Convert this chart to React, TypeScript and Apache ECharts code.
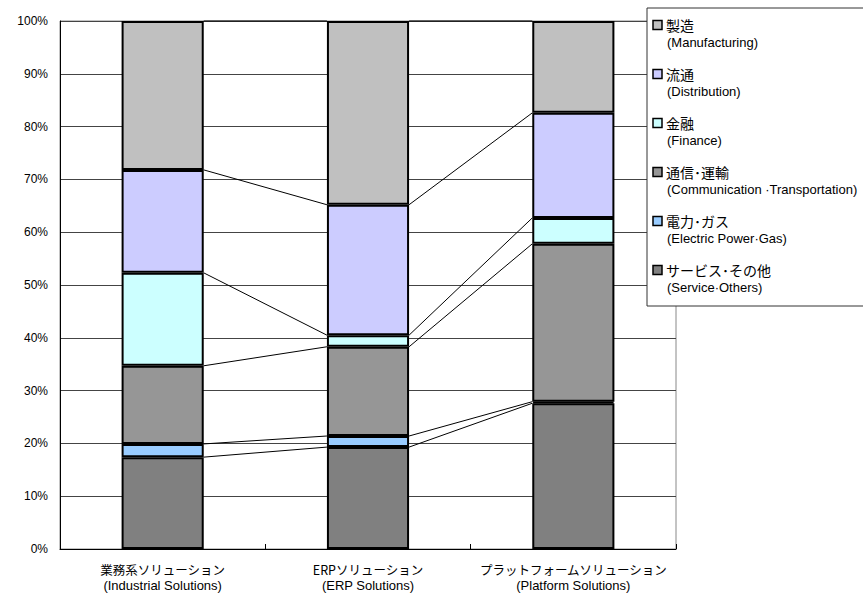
import React, { useEffect, useRef } from "react";
import * as echarts from "echarts";

const categoriesJa = ["業務系ソリューション", "ERPソリューション", "プラットフォームソリューション"];
const categoriesEn = ["(Industrial Solutions)", "(ERP Solutions)", "(Platform Solutions)"];

// stacked from bottom to top
const seriesJa = ["サービス･その他", "電力･ガス", "通信･運輸", "金融", "流通", "製造"];
const seriesEn = [
  "(Service·Others)",
  "(Electric Power·Gas)",
  "(Communication ·Transportation)",
  "(Finance)",
  "(Distribution)",
  "(Manufacturing)",
];
const seriesColors = ["#808080", "#99CCFF", "#969696", "#CCFFFF", "#CCCCFF", "#C0C0C0"];

const service = [17.4, 19.3, 27.6];
const power = [2.5, 2.1, 0.3];
const telecom = [14.8, 16.9, 29.9];
const finance = [17.6, 2.2, 4.9];
const distribution = [19.5, 24.7, 19.9];
const manufacturing = [28.2, 34.8, 17.4];

const seriesValues = [service, power, telecom, finance, distribution, manufacturing];

const yTicks = [0, 10, 20, 30, 40, 50, 60, 70, 80, 90, 100];

const JP_FONT = "'Noto Sans CJK JP', sans-serif";
const EN_FONT = "'Liberation Sans', Arial, sans-serif";

export default function App() {
  const ref = useRef<HTMLDivElement>(null);

  useEffect(() => {
    if (!ref.current) return;
    const chart = echarts.init(ref.current, undefined, { renderer: "svg" });

    // cumulative tops for connector lines
    const cum: number[][] = [];
    seriesValues.forEach((vals, s) => {
      cum.push(vals.map((_, i) => {
        let t = 0;
        for (let k = 0; k <= s; k++) t += seriesValues[k][i];
        return t;
      }));
    });
    const connectorData: number[][] = [];
    cum.forEach((tops) => {
      for (let i = 0; i < tops.length - 1; i++) {
        connectorData.push([i, tops[i], tops[i + 1]]);
      }
    });

    const barSeries = seriesJa.map((name, s) => ({
      name,
      type: "bar",
      stack: "total",
      barWidth: "40%",
      data: seriesValues[s],
      itemStyle: { color: seriesColors[s], borderColor: "#000", borderWidth: 2 },
      emphasis: { disabled: true },
    }));

    const legendItems: any[] = [];
    const order = [5, 4, 3, 2, 1, 0];
    order.forEach((s, k) => {
      const cy = 25 + k * 49;
      legendItems.push({
        type: "rect",
        shape: { x: 653, y: cy - 4.5, width: 9, height: 9 },
        style: { fill: seriesColors[s], stroke: "#000", lineWidth: 1.5 },
        z: 101,
      });
      legendItems.push({
        type: "text",
        x: 666,
        y: cy,
        style: {
          text: seriesJa[s],
          font: `14px ${JP_FONT}`,
          fill: "#000",
          verticalAlign: "middle",
          align: "left",
        },
        z: 101,
      });
      legendItems.push({
        type: "text",
        x: 667,
        y: cy + 17,
        style: {
          text: seriesEn[s],
          font: `13px ${EN_FONT}`,
          fill: "#000",
          verticalAlign: "middle",
          align: "left",
        },
        z: 101,
      });
    });

    chart.setOption({
      animation: false,
      backgroundColor: "#fff",
      grid: {
        left: 60,
        right: 187,
        top: 21,
        bottom: 44,
        show: true,
        borderColor: "#888",
        borderWidth: 1,
      },
      xAxis: {
        type: "category",
        data: categoriesJa,
        axisLine: { lineStyle: { color: "#000", width: 1 } },
        axisTick: { show: true, inside: true, length: 5, interval: 0, lineStyle: { color: "#000" } },
        axisLabel: {
          interval: 0,
          margin: 12,
          formatter: (v: string, i: number) => `{jp|${v}}\n{en|${categoriesEn[i]}}`,
          rich: {
            jp: { fontFamily: JP_FONT, fontSize: 12.5, color: "#000", lineHeight: 16 },
            en: { fontFamily: EN_FONT, fontSize: 13, color: "#000", lineHeight: 16 },
          },
        },
      },
      yAxis: {
        type: "value",
        min: yTicks[0],
        max: yTicks[yTicks.length - 1],
        interval: 10,
        axisLine: { show: true, lineStyle: { color: "#000", width: 1 } },
        axisTick: { show: false },
        splitLine: { lineStyle: { color: "#444", width: 1 } },
        axisLabel: {
          formatter: "{value}%",
          fontFamily: EN_FONT,
          fontSize: 12,
          color: "#000",
          margin: 12,
        },
      },
      series: [
        ...barSeries,
        {
          type: "custom",
          name: "connectors",
          data: connectorData,
          z: 1,
          silent: true,
          renderItem: (params: any, api: any) => {
            const i = api.value(0);
            const a = api.coord([i, api.value(1)]);
            const b = api.coord([i + 1, api.value(2)]);
            const half = api.size([1, 0])[0] * 0.2;
            return {
              type: "line",
              shape: { x1: a[0] + half, y1: a[1], x2: b[0] - half, y2: b[1] },
              style: { stroke: "#000", lineWidth: 1 },
            };
          },
        },
      ],
      graphic: [
        {
          type: "rect",
          shape: { x: 647, y: 8, width: 240, height: 298 },
          style: { fill: "#fff", stroke: "#333", lineWidth: 1 },
          z: 100,
        },
        ...legendItems,
      ],
    });

    return () => chart.dispose();
  }, []);

  return (
    <div
      ref={ref}
      style={{ position: "fixed", left: 0, top: 0, width: 863, height: 593 }}
    />
  );
}
